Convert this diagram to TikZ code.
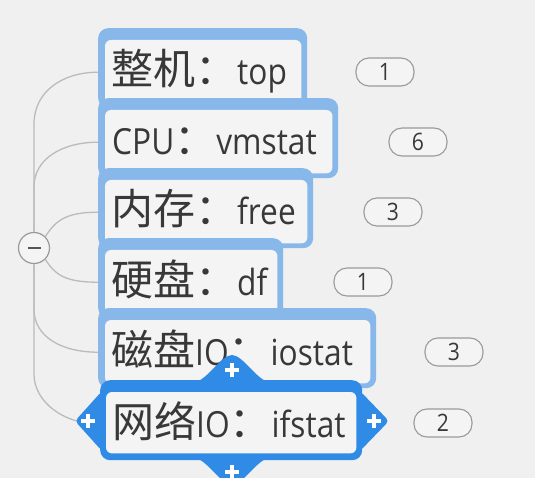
\documentclass[tikz,border=0pt]{standalone}
\usepackage{fontspec}
\setmainfont[FakeStretch=0.88]{Open Sans}
\newfontfamily\cjkfont{Noto Sans CJK SC}
\newcommand\zhtext[1]{{\cjkfont\fontsize{42}{46}\selectfont #1}}
\definecolor{bgc}{HTML}{F0F0F0}
\definecolor{lblue}{HTML}{88B7EA}
\definecolor{sblue}{HTML}{2F8BE6}
\definecolor{innerc}{HTML}{F4F4F4}
\definecolor{linec}{HTML}{BBBBBB}
\definecolor{txtc}{HTML}{383838}
\definecolor{badgec}{HTML}{9A9A9A}
\pgfdeclarelayer{back}
\pgfdeclarelayer{lines}
\pgfsetlayers{back,lines,main}
\tikzset{
  outerbox/.style={fill=lblue, rounded corners=10pt, minimum height=80pt, inner sep=0pt, anchor=north west},
  selbox/.style={fill=sblue, rounded corners=10pt, minimum height=80pt, inner sep=0pt, anchor=north west},
  innerbox/.style={fill=innerc, rounded corners=6pt},
  txt/.style={anchor=base west, inner sep=0pt, text=txtc, font=\fontsize{36}{40}\selectfont},
  conn/.style={draw=linec, line width=1.3pt},
  badge/.style={draw=badgec, fill=innerc, line width=1.1pt, rounded corners=13pt, minimum width=58pt, minimum height=28pt, inner sep=0pt, text=txtc, font=\fontsize{24}{26}\selectfont},
  plussign/.style={draw=white, line width=3.6pt},
  hubstyle/.style={circle, draw=badgec, fill=innerc, line width=1.2pt, minimum size=31pt, inner sep=0pt}
}
\begin{document}
\begin{tikzpicture}[x=1pt,y=-1pt]
\useasboundingbox (0,0) rectangle (535,478);
\begin{pgfonlayer}{back}
\fill[bgc] (0,0) rectangle (535,478);
\end{pgfonlayer}

% node 1
\node[outerbox, minimum width=209pt] (b1) at (98,28) {};
\fill[innerbox] ([xshift=7pt,yshift=-12pt]b1.north west) rectangle ([xshift=-6pt,yshift=5pt]b1.south east);
\node[txt] (t1) at (111,85) {\zhtext{整机：}top};

% node 2
\node[outerbox, minimum width=240pt] (b2) at (98,98) {};
\fill[innerbox] ([xshift=7pt,yshift=-12pt]b2.north west) rectangle ([xshift=-6pt,yshift=5pt]b2.south east);
\node[txt] (t2) at (112,155) {CPU\zhtext{：}vmstat};

% node 3
\node[outerbox, minimum width=215pt] (b3) at (98,168) {};
\fill[innerbox] ([xshift=7pt,yshift=-12pt]b3.north west) rectangle ([xshift=-6pt,yshift=5pt]b3.south east);
\node[txt] (t3) at (111,225) {\zhtext{内存：}free};

% node 4
\node[outerbox, minimum width=185pt] (b4) at (98,238) {};
\fill[innerbox] ([xshift=7pt,yshift=-12pt]b4.north west) rectangle ([xshift=-6pt,yshift=5pt]b4.south east);
\node[txt] (t4) at (111,295) {\zhtext{硬盘：}df};

% node 5
\node[outerbox, minimum width=278pt] (b5) at (98,308) {};
\fill[innerbox] ([xshift=7pt,yshift=-12pt]b5.north west) rectangle ([xshift=-6pt,yshift=5pt]b5.south east);
\node[txt] (t5) at (111,365) {\zhtext{磁盘}IO\zhtext{：}iostat};

% node 6 (selected) with handles
\fill[sblue, rounded corners=4pt] (102,391) -- (75,421) -- (102,451) -- cycle;
\fill[sblue, rounded corners=4pt] (360,391) -- (389,421) -- (360,451) -- cycle;
\fill[sblue] (194,382) .. controls (206,382) and (221,355) .. (232,355) .. controls (243,355) and (258,382) .. (270,382) -- cycle;
\fill[sblue] (194,458) .. controls (206,458) and (221,485) .. (232,485) .. controls (243,485) and (258,458) .. (270,458) -- cycle;
\node[selbox, minimum width=262pt] (b6) at (100,380) {};
\fill[innerbox] ([xshift=6pt,yshift=-12pt]b6.north west) rectangle ([xshift=-6pt,yshift=7pt]b6.south east);
\node[txt] (t6) at (112,437) {\zhtext{网络}IO\zhtext{：}ifstat};
\draw[plussign] (81,421) -- (95,421) (88,414) -- (88,428);
\draw[plussign] (367,421) -- (381,421) (374,414) -- (374,428);
\draw[plussign] (225,370) -- (239,370) (232,363) -- (232,377);
\draw[plussign] (225,472) -- (239,472) (232,465) -- (232,479);

% hub
\node[hubstyle] (hub) at (34,248) {};
\draw[draw=txtc!85, line width=2.6pt] ([xshift=-6.5pt]hub.center) -- ([xshift=6.5pt]hub.center);

% connectors, behind the boxes
\begin{pgfonlayer}{lines}
\draw[conn] (hub.north) -- ++(0,-108) .. controls +(0,-32) and +(-36,0) .. ([yshift=-4pt]b1.west);
\draw[conn] (hub.north) -- ++(0,-45) .. controls +(0,-28) and +(-36,0) .. ([yshift=-4pt]b2.west);
\draw[conn] (hub.north east) .. controls +(10,-16) and +(-32,0) .. ([yshift=-4pt]b3.west);
\draw[conn] (hub.south east) .. controls +(10,16) and +(-32,0) .. ([yshift=-4pt]b4.west);
\draw[conn] (hub.south) -- ++(0,45) .. controls +(0,28) and +(-36,0) .. ([yshift=-4pt]b5.west);
\draw[conn] (hub.south) -- ++(0,110) .. controls +(0,28) and +(-36,0) .. ([yshift=-4pt]b6.west);
\end{pgfonlayer}

% badges
\node[badge] (c1) at (385,72) {1};
\node[badge] (c2) at (418,142) {6};
\node[badge] (c3) at (393,212) {3};
\node[badge] (c4) at (363,282) {1};
\node[badge] (c5) at (454,352) {3};
\node[badge] (c6) at (443,423) {2};
\end{tikzpicture}
\end{document}
